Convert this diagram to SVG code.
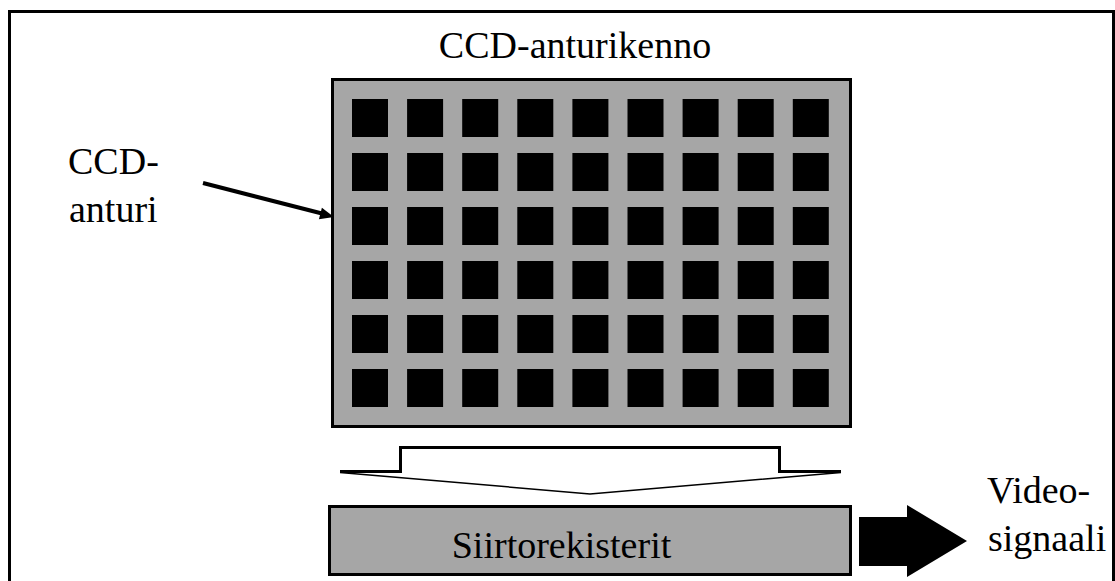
<svg xmlns="http://www.w3.org/2000/svg" width="1115" height="581" viewBox="0 0 1115 581">
<style>
.t{font-family:"Liberation Serif","Times New Roman",serif;font-size:38px;fill:#000}
.g{fill:#a6a6a6;stroke:#000;stroke-width:3}
.cell{fill:#000}
.ln{fill:none;stroke:#000}
</style>
<defs>
<rect id="c" class="cell" width="36" height="38"/>
<g id="row">
<use href="#c" x="352"/><use href="#c" x="407.1"/><use href="#c" x="462.2"/><use href="#c" x="517.3"/><use href="#c" x="572.4"/><use href="#c" x="627.5"/><use href="#c" x="682.6"/><use href="#c" x="737.7"/><use href="#c" x="792.8"/>
</g>
</defs>
<rect width="1115" height="581" fill="#fff"/>
<path id="frame" class="ln" stroke-width="3" d="M9.5,581 V11.5 H1113.5 V581"/>
<g id="sensor-array">
<text class="t" x="575" y="58" text-anchor="middle">CCD-anturikenno</text>
<rect class="g" x="332.5" y="79.5" width="518" height="347"/>
<use href="#row" y="99"/>
<use href="#row" y="153"/>
<use href="#row" y="207"/>
<use href="#row" y="261"/>
<use href="#row" y="315"/>
<use href="#row" y="369"/>
</g>
<g id="sensor-label">
<text class="t" x="68" y="174">CCD-</text>
<text class="t" x="69" y="222">anturi</text>
</g>
<g id="transfer-arrow">
<path class="ln" stroke-width="3" d="M340,471.5 H400.5 V447.5 H779.5 V471.5 H841"/>
<path class="ln" stroke-width="1.5" d="M340,472.5 L590,494 L841,472.5"/>
</g>
<g id="shift-registers">
<rect class="g" x="329.5" y="506.5" width="521" height="68"/>
<text class="t" x="561.5" y="558" text-anchor="middle">Siirtorekisterit</text>
</g>
<g id="video-signal">
<text class="t" x="987" y="503">Video-</text>
<text class="t" x="988" y="551">signaali</text>
</g>
<g id="connectors">
<line class="ln" stroke-width="4" x1="203" y1="183" x2="322" y2="213.5"/>
<polygon fill="#000" points="334,217 318.9,219.3 321.9,207.7"/>
<polygon fill="#000" points="859,517 907,517 907,505 967,541 907,577 907,566 859,566"/>
</g>
</svg>
